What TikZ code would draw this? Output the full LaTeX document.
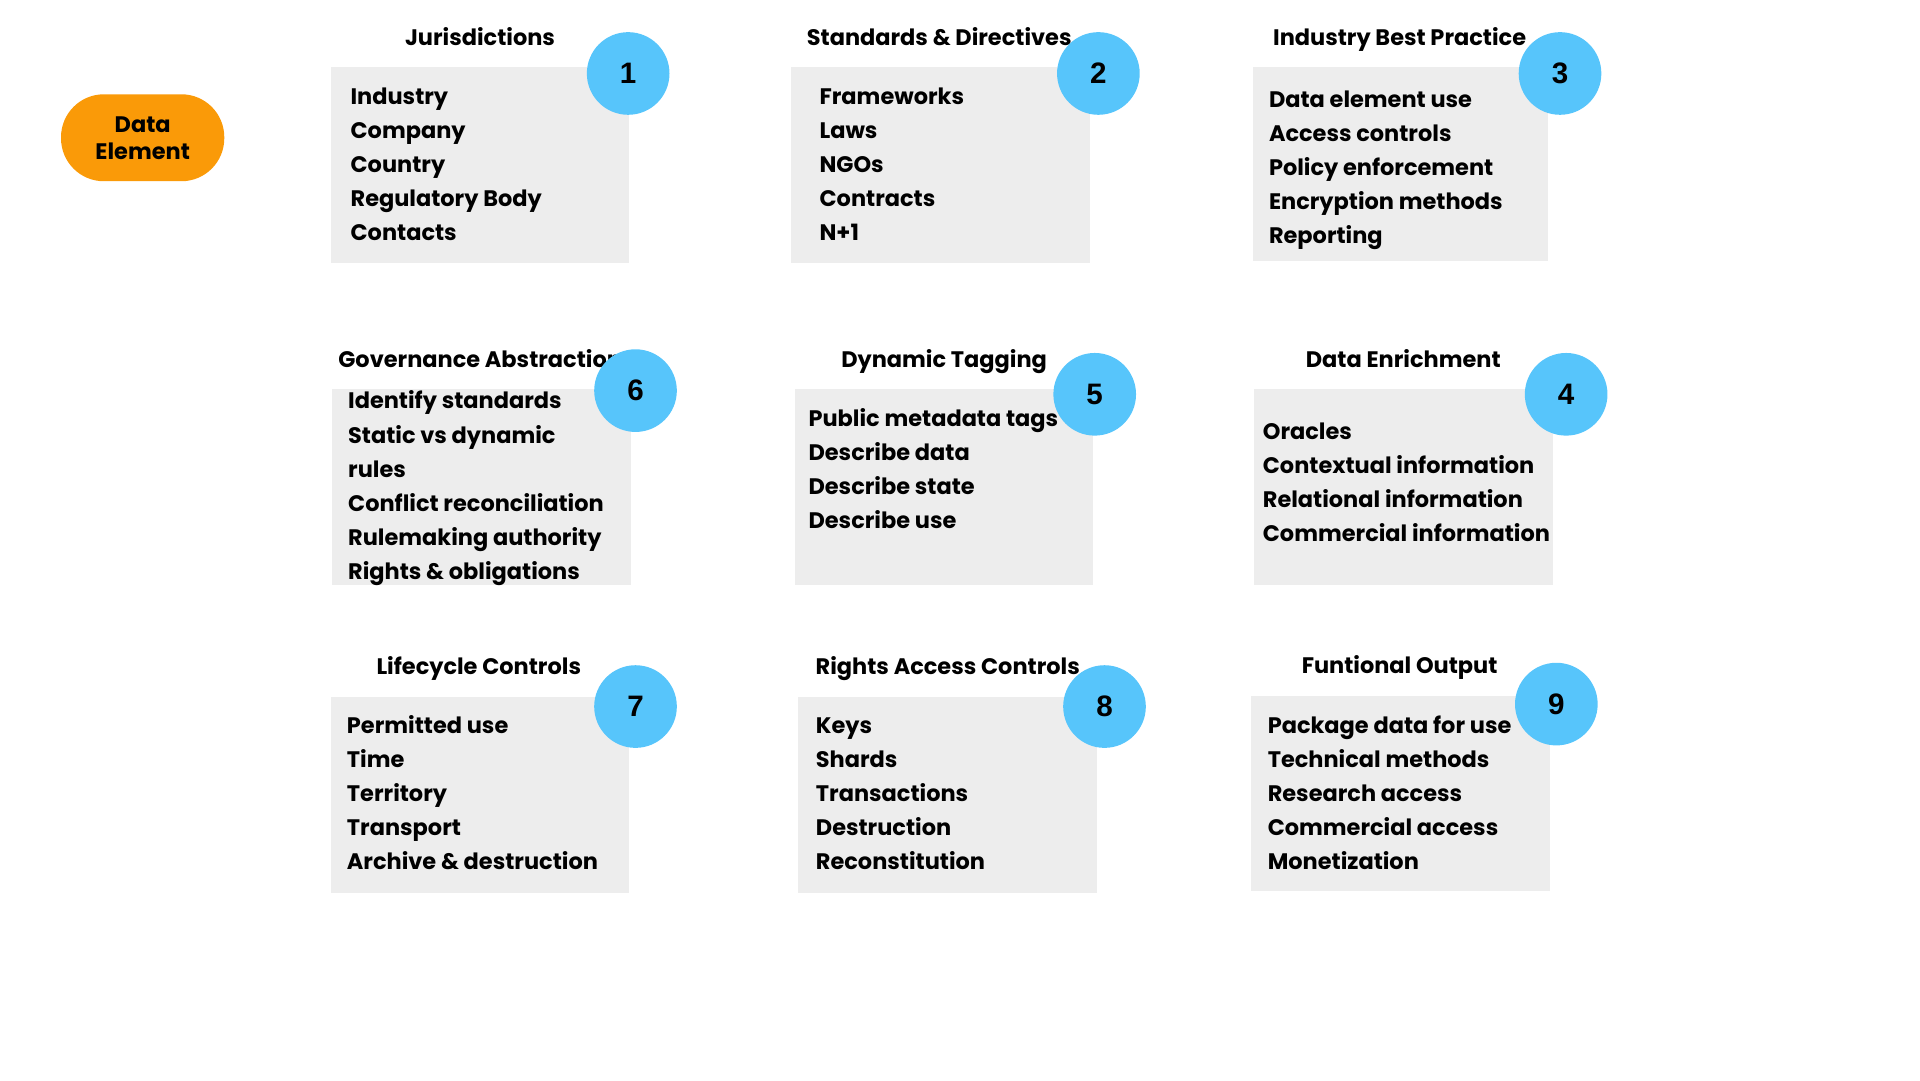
\documentclass[tikz,border=0pt]{standalone}
\usepackage{fontspec}
\setmainfont{Poppins}
\newfontfamily\numfont{Liberation Sans}
\usetikzlibrary{positioning}
\definecolor{boxgray}{HTML}{EDEDED}
\definecolor{numblue}{HTML}{57C5FB}
\definecolor{pillorange}{HTML}{FA9A08}

\begin{document}
\begin{tikzpicture}[x = 0.6pt, y = -0.6pt,
    panel/.style = { fill = boxgray, minimum width = 146.4pt, minimum height = 96pt, inner sep = 0pt },
    heading/.style = { anchor = base, font = \bfseries\fontsize{11}{13}\selectfont, inner sep = 0pt },
    item/.style = { anchor = base west, font = \bfseries\fontsize{11}{13}\selectfont, inner sep = 0pt },
    badge/.style = { circle, fill = numblue, minimum size = 40.5pt, inner sep = 0pt,
      font = \numfont\bfseries\fontsize{14.5}{16}\selectfont }]
  \useasboundingbox (0,0) rectangle (1568,882);

  \node [fill = pillorange, rounded corners = 21pt, minimum width = 80pt, minimum height = 42.6pt,
    inner sep = 0pt, align = center, font = \bfseries\fontsize{11}{13.2}\selectfont]
    (data) at (116.5,112.5) { Data \\ Element };

  % top row
  \node [panel] (jur) at (392,135) {};
  \node [heading] (jur-title) at (392,37) { Jurisdictions };
  \node [badge] (jur-num) at (513,60) { 1 };
  \foreach \t [count = \i] in { Industry, Company, Country, Regulatory Body, Contacts }
    \node [item] (jur-\i) at (286, {85 + (\i-1)*27.8}) { \t };

  \node [panel] (std) at (768,135) {};
  \node [heading] (std-title) at (767,37) { Standards \& Directives };
  \node [badge] (std-num) at (897,60) { 2 };
  \foreach \t [count = \i] in { Frameworks, Laws, NGOs, Contracts, N+1 }
    \node [item] (std-\i) at (669, {85 + (\i-1)*27.8}) { \t };

  \node [panel, minimum width = 144.6pt, minimum height = 94.8pt] (ibp) at (1143.5,134) {};
  \node [heading] (ibp-title) at (1143,37) { Industry Best Practice };
  \node [badge] (ibp-num) at (1274,60) { 3 };
  \foreach \t [count = \i] in { Data element use, Access controls, Policy enforcement, Encryption methods, Reporting }
    \node [item] (ibp-\i) at (1036, {88 + (\i-1)*27.8}) { \t };

  % middle row
  \node [panel] (gov) at (393,398) {};
  \node [heading, anchor = base west] (gov-title) at (276,300) { Governance Abstraction };
  \node [badge] (gov-num) at (519,319) { 6 };
  \foreach \t [count = \i] in { Identify standards, Static vs dynamic, rules, Conflict reconciliation,
      Rulemaking authority, Rights \& obligations }
    \node [item] (gov-\i) at (284, {334 + (\i-1)*27.8}) { \t };

  \node [panel] (tag) at (771,398) {};
  \node [heading] (tag-title) at (771,300) { Dynamic Tagging };
  \node [badge] (tag-num) at (894,322) { 5 };
  \foreach \t [count = \i] in { Public metadata tags, Describe data, Describe state, Describe use }
    \node [item] (tag-\i) at (660, {348 + (\i-1)*27.8}) { \t };

  \node [panel] (enr) at (1146,398) {};
  \node [heading] (enr-title) at (1146,300) { Data Enrichment };
  \node [badge] (enr-num) at (1279,322) { 4 };
  \foreach \t [count = \i] in { Oracles, Contextual information, Relational information, Commercial information }
    \node [item] (enr-\i) at (1031, {359 + (\i-1)*27.8}) { \t };

  % bottom row
  \node [panel] (life) at (392,649) {};
  \node [heading] (life-title) at (391,551) { Lifecycle Controls };
  \node [badge] (life-num) at (519,577) { 7 };
  \foreach \t [count = \i] in { Permitted use, Time, Territory, Transport, Archive \& destruction }
    \node [item] (life-\i) at (283, {599 + (\i-1)*27.8}) { \t };

  \node [panel] (rac) at (774,649) {};
  \node [heading] (rac-title) at (774,551) { Rights Access Controls };
  \node [badge] (rac-num) at (902,577) { 8 };
  \foreach \t [count = \i] in { Keys, Shards, Transactions, Destruction, Reconstitution }
    \node [item] (rac-\i) at (666, {599 + (\i-1)*27.8}) { \t };

  \node [panel] (out) at (1143.5,648) {};
  \node [heading] (out-title) at (1143,550) { Funtional Output };
  \node [badge] (out-num) at (1271,575) { 9 };
  \foreach \t [count = \i] in { Package data for use, Technical methods, Research access, Commercial access, Monetization }
    \node [item] (out-\i) at (1035, {599 + (\i-1)*27.8}) { \t };
\end{tikzpicture}
\end{document}
